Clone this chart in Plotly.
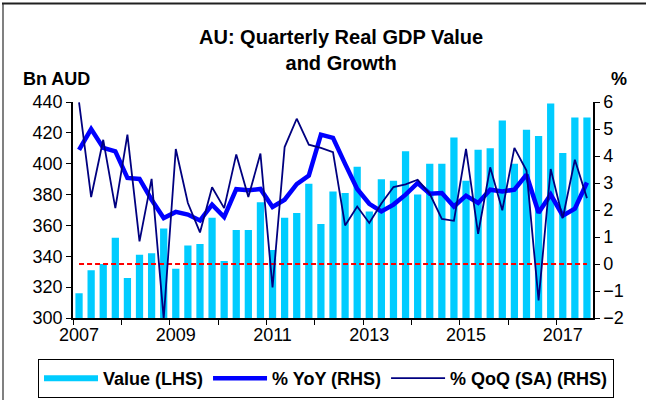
import plotly.graph_objects as go

# ---- data (2007Q1 .. 2017Q3) ----
years = list(range(2007, 2018))
quarters = [f"{y}Q{q}" for y in years for q in range(1, 5)][:43]

value_lhs = [316, 331, 335, 352, 326, 341, 342, 358,
             332, 347, 348, 365, 337, 357, 357, 375,
             344, 365, 368, 387, 361, 382, 381, 398,
             369, 390, 389, 408, 380, 400, 400, 417,
             389, 409, 410, 428, 400, 422, 418, 439,
             407, 430, 430]

yoy_rhs = [4.23, 5.00, 4.30, 4.17, 3.19, 3.15, 2.38, 1.70,
           1.93, 1.83, 1.61, 2.20, 1.74, 2.77, 2.73, 2.78,
           2.11, 2.38, 2.96, 3.27, 4.79, 4.67, 3.71, 2.78,
           2.23, 1.95, 2.20, 2.57, 3.00, 2.60, 2.63, 2.13,
           2.53, 2.26, 2.75, 2.69, 2.75, 3.31, 1.90, 2.57,
           1.79, 2.05, 3.02]

qoq_rhs = [5.99, 2.48, 4.60, 2.07, 4.79, 0.84, 3.15, -2.02,
           4.26, 2.26, 1.17, 2.84, 2.07, 4.06, 2.48, 4.09,
           -0.87, 4.33, 5.38, 4.42, 4.30, 4.14, 1.43, 2.13,
           1.52, 2.24, 2.85, 2.95, 3.12, 2.60, 1.67, 1.60,
           4.26, 1.12, 3.58, 1.99, 4.30, 3.46, -1.35, 3.52,
           1.70, 3.86, 2.44]

ZERO_LINE = 0.0
label_years = [2007, 2009, 2011, 2013, 2015, 2017]

x = list(range(len(quarters)))
tick_vals = [quarters.index(f"{y}Q1") for y in label_years]
tick_text = [str(y) for y in label_years]
boundary_vals = [quarters.index(f"{y}Q1") - 0.5 for y in years]

CYAN = "#00CCFF"
BLUE = "#0000FF"
NAVY = "#000080"
FONT = "Liberation Sans, Arial, sans-serif"

W, H = 646, 400
L, R, T, B = 73, 53, 102.3, 82.3
PW, PH = W - L - R, H - T - B


def px_x(px):
    return (px - L) / PW


def px_y(py):
    return (H - B - py) / PH


fig = go.Figure()

fig.add_trace(go.Bar(x=x, y=value_lhs, name="Value (LHS)", marker_color=CYAN,
                     marker_line_width=0, width=0.6, showlegend=False,
                     hovertext=quarters, yaxis="y"))
# legend swatch for bars (wide flat rectangle as in the reference)
fig.add_trace(go.Scatter(x=[None], y=[None], mode="lines", name="<b>Value (LHS)</b>",
                         line=dict(color=CYAN, width=6), yaxis="y"))
fig.add_trace(go.Scatter(x=[x[0], x[-1]], y=[ZERO_LINE, ZERO_LINE], mode="lines",
                         line=dict(color="#FF0000", width=2, dash="5px,3px"),
                         showlegend=False, yaxis="y2", hoverinfo="skip"))
fig.add_trace(go.Scatter(x=x, y=yoy_rhs, mode="lines", name="<b>% YoY (RHS)</b>",
                         line=dict(color=BLUE, width=4.5), yaxis="y2",
                         hovertext=quarters))
fig.add_trace(go.Scatter(x=x, y=qoq_rhs, mode="lines", name="<b>% QoQ (SA) (RHS)</b>",
                         line=dict(color=NAVY, width=1.8), yaxis="y2",
                         hovertext=quarters))

axis_common = dict(showline=True, linecolor="black", linewidth=1.5, showgrid=False,
                   zeroline=False, ticks="outside", ticklen=5, tickcolor="black",
                   tickfont=dict(family=FONT, size=18, color="black"))

fig.update_layout(
    width=W, height=H,
    margin=dict(l=L, r=R, t=T, b=B, pad=0, autoexpand=False),
    paper_bgcolor="white", plot_bgcolor="white",
    font=dict(family=FONT, color="black"),
    xaxis=dict(range=[-0.5, len(quarters) - 0.5], tickmode="array",
               tickvals=tick_vals, ticktext=tick_text, showline=True,
               linecolor="black", linewidth=1.5, showgrid=False, zeroline=False,
               ticks="", tickfont=dict(family=FONT, size=18, color="black"),
               minor=dict(tickmode="array", tickvals=boundary_vals, ticks="outside",
                          ticklen=5, tickcolor="black", showgrid=False)),
    yaxis=dict(range=[300, 440], tickmode="linear", tick0=300, dtick=20, side="left",
               **axis_common),
    yaxis2=dict(range=[-2, 6], tickmode="linear", tick0=-2, dtick=1, side="right",
                overlaying="y", **axis_common),
    bargap=0.4,
    legend=dict(orientation="h", x=px_x(38), xanchor="left",
                y=px_y(378), yanchor="middle",
                bordercolor="black", borderwidth=1, bgcolor="white",
                font=dict(family=FONT, size=18, color="black"),
                itemwidth=54, tracegroupgap=0),
    annotations=[
        dict(text="<b>AU: Quarterly Real GDP Value<br>and Growth</b>",
             xref="paper", yref="paper",
             x=px_x(341), y=px_y(50), xanchor="center", yanchor="middle",
             showarrow=False, font=dict(family=FONT, size=20, color="black")),
        dict(text="<b>Bn AUD</b>", xref="paper", yref="paper",
             x=px_x(21), y=px_y(79), xanchor="left",
             yanchor="middle", showarrow=False,
             font=dict(family=FONT, size=18, color="black")),
        dict(text="<b>%</b>", xref="paper", yref="paper",
             x=px_x(619), y=px_y(79), xanchor="center",
             yanchor="middle", showarrow=False,
             font=dict(family=FONT, size=18, color="black")),
    ],
    shapes=[
        dict(type="line", xref="paper", yref="paper",
             x0=px_x(3), x1=px_x(3), y0=px_y(4), y1=px_y(420),
             line=dict(color="#808080", width=2), layer="below"),
        dict(type="line", xref="paper", yref="paper",
             x0=px_x(2), x1=px_x(700), y0=px_y(4), y1=px_y(4),
             line=dict(color="#202020", width=2), layer="below"),
    ],
)

fig.write_html("out.html", config={"displayModeBar": False},
               post_script="document.body.style.margin='0';")
